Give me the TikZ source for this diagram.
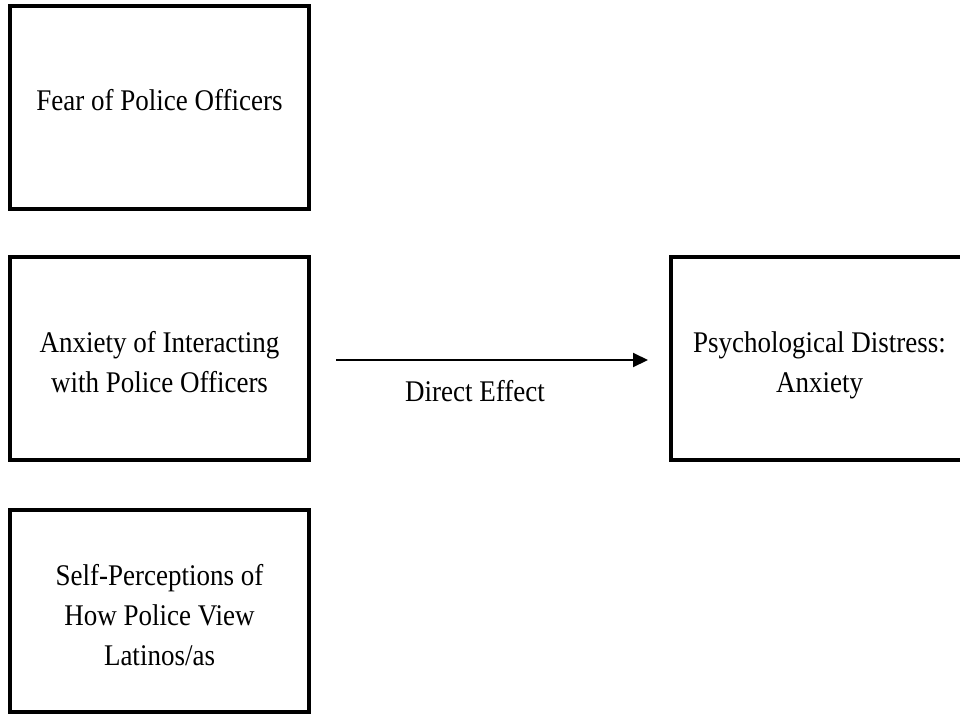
\documentclass[tikz,border=0pt]{standalone}
\usepackage{fontspec}
\setmainfont{Liberation Serif}
\newfontfamily\tallserif[FakeStretch=0.9]{Liberation Serif}
\usetikzlibrary{arrows.meta}
\begin{document}
\begin{tikzpicture}[x=1pt,y=-1pt,
  box/.style={draw, line width=4pt, minimum width=299pt, minimum height=203pt, inner sep=0pt},
  lbl/.style={align=center, font=\tallserif\fontsize{30}{40}\selectfont, inner sep=0pt},
  conn/.style={line width=2pt, -{Triangle[length=15pt,width=14pt]}}]
\useasboundingbox (0,0) rectangle (960,715);
\clip (0,0) rectangle (960,715);
\node[box] (fear) at (159.5,107.5) {};
\node[box] (anx) at (159.5,358.5) {};
\node[box, minimum height=202pt] (self) at (159.5,611) {};
\node[box, minimum width=297pt] (psy) at (819.5,358.5) {};
\node[lbl] (feart) at (159.5,99.8) {Fear of Police Officers};
\node[lbl] (anxt) at (159.5,361.8) {Anxiety of Interacting\\with Police Officers};
\node[lbl] (selft) at (159.5,614.8) {Self-Perceptions of\\How Police View\\Latinos/as};
\node[lbl] (psyt) at (819.5,365) {Psychological Distress:\\Anxiety};
\draw[conn, shorten <=25pt, shorten >=21pt] ([yshift=-1.5pt]anx.east) -- ([yshift=-1.5pt]psy.west);
\node[lbl] (direct) at (475,390.8) {Direct Effect};
\end{tikzpicture}
\end{document}
